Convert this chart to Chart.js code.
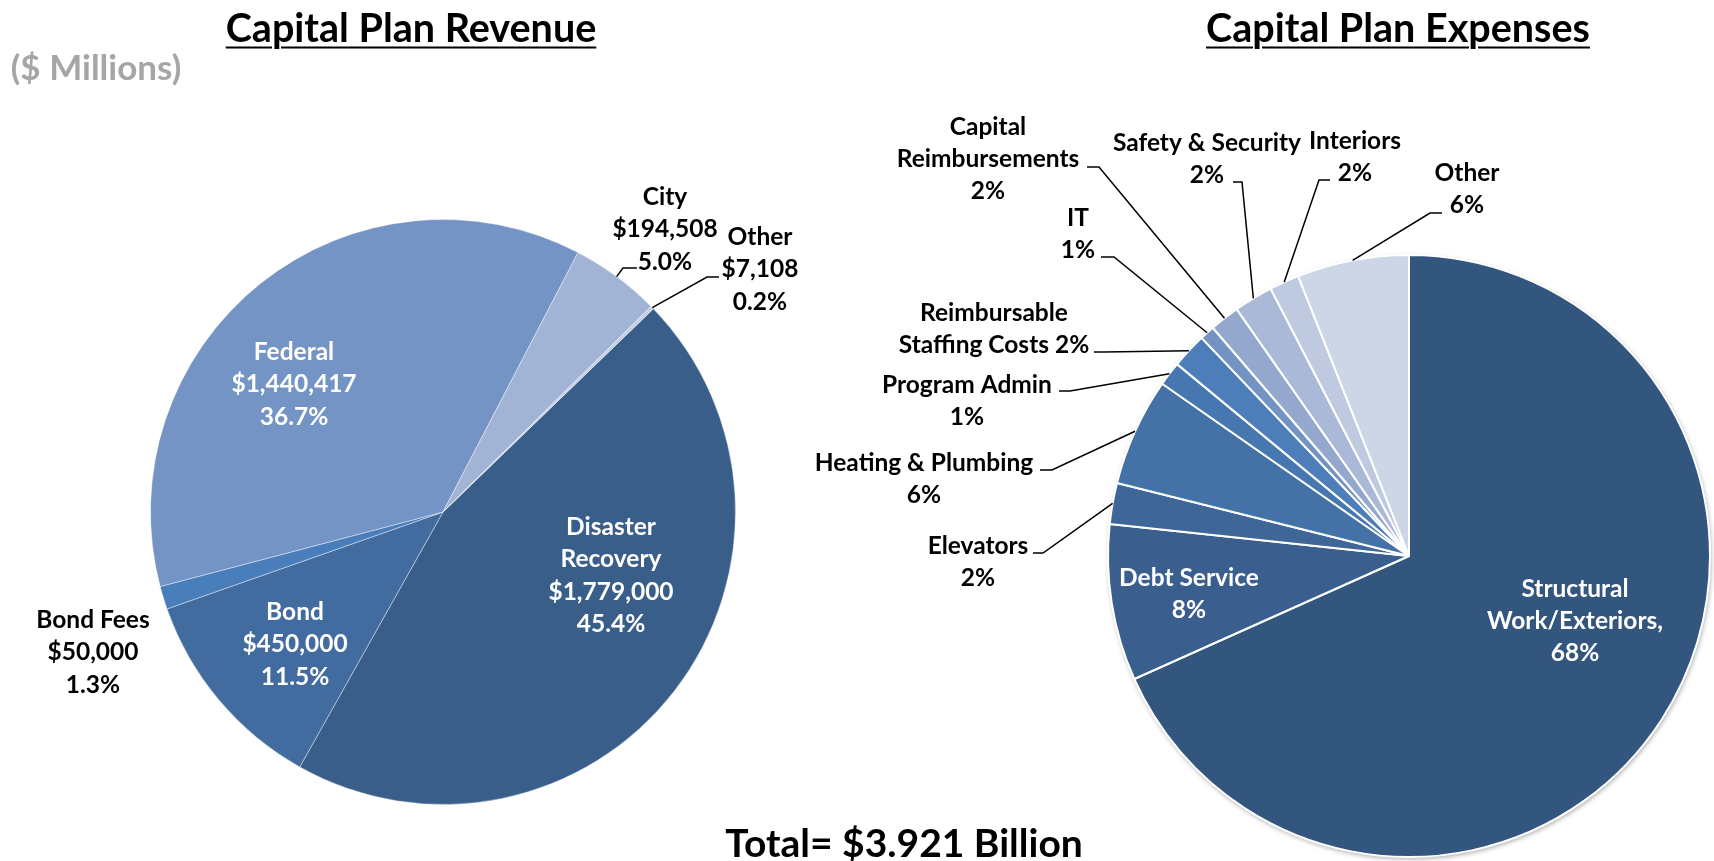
<!DOCTYPE html>
<html>
<head>
<meta charset="utf-8">
<title>Capital Plan Revenue / Expenses</title>
<script src="https://cdn.jsdelivr.net/npm/chart.js@4.4.1/dist/chart.umd.min.js"></script>
<style>
  html, body { margin: 0; padding: 0; background: #fff; }
  body { width: 1714px; height: 861px; position: relative; overflow: hidden; font-family: Lato, "Open Sans", sans-serif; }
  canvas { position: absolute; left: 0; top: 0; }
  .txt { position: absolute; font-weight: bold; white-space: nowrap; transform: translate(-50%, -50%); }
  .title { font-size: 39.5px; color: #000; text-decoration: underline; text-decoration-thickness: 2px; text-underline-offset: 5px; }
</style>
</head>
<body>
<canvas id="revenue" width="1714" height="861"></canvas>
<canvas id="expenses" width="1714" height="861" style="pointer-events:none"></canvas>

<div class="txt title" style="left:411px; top:26px;">Capital Plan Revenue</div>
<div class="txt title" style="left:1398px; top:26px;">Capital Plan Expenses</div>
<div class="txt" style="left:96px; top:66px; font-size:35px; color:#a6a6a6;">($ Millions)</div>
<div class="txt" style="left:904px; top:842px; font-size:39px; color:#000;">Total= $3.921 Billion</div>

<script>
// revenue ($ thousands)
const revenueCategories = ['Disaster\nRecovery', 'Bond', 'Bond Fees', 'Federal', 'City', 'Other'];
const revenueValues = [1779000, 450000, 50000, 1440417, 194508, 7108];
const revenueColors = ['#3a5e8a', '#426b9f', '#4a7ebb', '#7394c5', '#a2b4d6', '#c4cfe4'];

// expenses (% of total)
const expenseCategories = ['Structural\nWork/Exteriors,', 'Debt Service', 'Elevators', 'Heating & Plumbing',
  'Program Admin', 'Reimbursable\nStaffing Costs', 'IT', 'Capital\nReimbursements',
  'Safety & Security', 'Interiors', 'Other'];
const expenseValues = [68.3, 8.4, 2.2, 5.8, 1.3, 1.9, 0.8, 1.6, 2.1, 1.6, 6.0];
const expenseColors = ['#33567e', '#3a5f8e', '#3f6699', '#4572a6', '#4777b0', '#4d7eba',
  '#7393c3', '#94a8ce', '#aab9d7', '#bfcae1', '#cdd6e7'];

// where each data label sits (first line centre) + optional leader elbow
const revenueLayout = [
  {x: 611, y: 527, color: '#fff'},
  {x: 295, y: 612, color: '#fff'},
  {x: 93, y: 620, color: '#000'},
  {x: 294, y: 352, color: '#fff'},
  {x: 665, y: 197, color: '#000', lead: [637, 268, 623, 268]},
  {x: 760, y: 237, color: '#000', lead: [719, 277, 707, 277]}
];
const expenseLayout = [
  {x: 1575, y: 589, color: '#fff'},
  {x: 1189, y: 578, color: '#fff'},
  {x: 978, y: 546, color: '#000', lead: [1033, 553, 1043, 553]},
  {x: 924, y: 463, color: '#000', lead: [1040, 470, 1052, 470]},
  {x: 967, y: 385, color: '#000', lead: [1059, 391, 1070, 391]},
  {x: 994, y: 313, color: '#000', lead: [1094, 352, 1104, 352], inline: true},
  {x: 1078, y: 218, color: '#000', lead: [1101, 257, 1114, 257]},
  {x: 988, y: 127, color: '#000', lead: [1087, 167, 1099, 167]},
  {x: 1207, y: 143, color: '#000', lead: [1233, 182, 1242, 182]},
  {x: 1355, y: 141, color: '#000', lead: [1330, 180, 1319, 180]},
  {x: 1467, y: 173, color: '#000', lead: [1442, 213, 1430, 213]}
];

const FONT = 'bold 24.5px Lato, "Open Sans", sans-serif';

function revenueLines(i) {
  const total = revenueValues.reduce((a, b) => a + b, 0);
  const lines = revenueCategories[i].split('\n');
  lines.push('$' + revenueValues[i].toLocaleString('en-US'));
  lines.push((revenueValues[i] / total * 100).toFixed(1) + '%');
  return lines;
}

function expenseLines(i) {
  const total = expenseValues.reduce((a, b) => a + b, 0);
  const pct = Math.round(expenseValues[i] / total * 100) + '%';
  const lines = expenseCategories[i].split('\n');
  if (expenseLayout[i].inline) lines[lines.length - 1] += ' ' + pct;
  else lines.push(pct);
  return lines;
}

function labelPlugin(id, layout, getLines, lineH) {
  return {
    id: id,
    afterDatasetsDraw(chart) {
      const ctx = chart.ctx;
      const arcs = chart.getDatasetMeta(0).data;
      ctx.save();
      ctx.font = FONT;
      ctx.textAlign = 'center';
      ctx.textBaseline = 'middle';
      arcs.forEach((arc, i) => {
        const L = layout[i];
        if (L.lead) {
          const p = arc.getProps(['x', 'y', 'startAngle', 'endAngle', 'outerRadius'], true);
          const mid = (p.startAngle + p.endAngle) / 2;
          ctx.beginPath();
          ctx.strokeStyle = '#000';
          ctx.lineWidth = 1.5;
          ctx.moveTo(L.lead[0], L.lead[1]);
          ctx.lineTo(L.lead[2], L.lead[3]);
          ctx.lineTo(p.x + Math.cos(mid) * p.outerRadius, p.y + Math.sin(mid) * p.outerRadius);
          ctx.stroke();
        }
        ctx.fillStyle = L.color;
        getLines(i).forEach((t, k) => ctx.fillText(t, L.x, L.y + k * lineH));
      });
      ctx.restore();
    }
  };
}

const shadowPlugin = {
  id: 'pieShadow',
  beforeDatasetsDraw(chart) {
    const arc = chart.getDatasetMeta(0).data[0];
    if (!arc) return;
    const p = arc.getProps(['x', 'y', 'outerRadius'], true);
    const ctx = chart.ctx;
    ctx.save();
    ctx.shadowColor = 'rgba(0,0,0,0.35)';
    ctx.shadowBlur = 5;
    ctx.shadowOffsetX = 1;
    ctx.shadowOffsetY = 2;
    ctx.beginPath();
    ctx.arc(p.x, p.y, p.outerRadius, 0, Math.PI * 2);
    ctx.fillStyle = '#fff';
    ctx.fill();
    ctx.restore();
  }
};

const common = {
  responsive: false,
  animation: false,
  events: [],
  plugins: { legend: { display: false }, tooltip: { enabled: false } }
};

new Chart(document.getElementById('revenue'), {
  type: 'pie',
  data: {
    labels: revenueCategories,
    datasets: [{
      data: revenueValues,
      backgroundColor: revenueColors,
      borderColor: 'rgba(255,255,255,0.4)',
      borderWidth: 1
    }]
  },
  options: Object.assign({}, common, {
    rotation: 46,
    layout: { padding: { left: 150, right: 978, top: 219, bottom: 56 } }
  }),
  plugins: [labelPlugin('revLabels', revenueLayout, revenueLines, 32.5)]
});

new Chart(document.getElementById('expenses'), {
  type: 'pie',
  data: {
    labels: expenseCategories,
    datasets: [{
      data: expenseValues,
      backgroundColor: expenseColors,
      borderColor: '#fff',
      borderWidth: 2
    }]
  },
  options: Object.assign({}, common, {
    rotation: 0,
    layout: { padding: { left: 1107, right: 3, top: 254, bottom: 3 } }
  }),
  plugins: [shadowPlugin, labelPlugin('expLabels', expenseLayout, expenseLines, 32)]
});
</script>
</body>
</html>
